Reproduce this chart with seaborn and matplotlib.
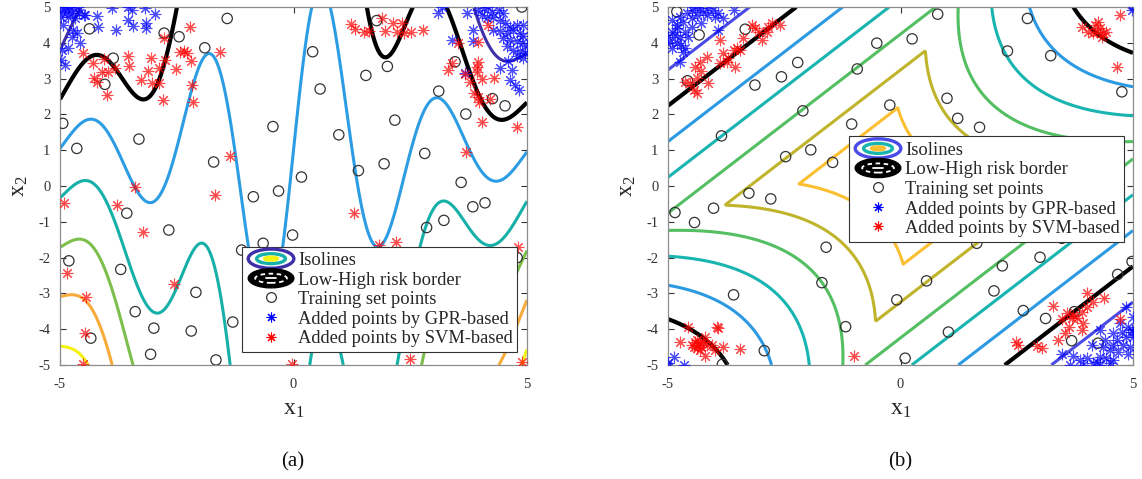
import numpy as np
import matplotlib
matplotlib.use("Agg")
import matplotlib.pyplot as plt
import seaborn as sns
from matplotlib.legend_handler import HandlerBase
from matplotlib.patches import Ellipse
from matplotlib.lines import Line2D

# ---------------- data: panel (a) ----------------
train_a = [(-4.37, 4.39), (-2.77, 4.27), (-2.45, 4.17), (-1.42, 4.68), (-1.90, 3.86), (-3.86, 3.57),
           (-4.04, 2.84), (-4.94, 1.75), (-4.64, 1.05), (-3.31, 1.31), (-0.44, 1.66), (-1.71, 0.67),
           (-0.86, -0.30), (-0.32, -0.14), (0.17, 0.25), (4.89, 5.0), (1.78, 4.62), (0.41, 3.75),
           (2.01, 3.34), (1.55, 3.09), (0.57, 2.71), (3.46, 3.47), (3.11, 2.65), (4.26, 2.44),
           (4.53, 2.24), (3.69, 2.01), (2.17, 1.84), (0.97, 1.43), (2.81, 0.91), (1.94, 0.62),
           (1.39, 0.43), (3.59, 0.10), (3.84, -0.58), (4.10, -0.47), (3.22, -0.96), (2.85, -1.16),
           (-0.02, -1.37), (-3.57, -0.76), (-2.67, -1.23), (-4.81, -2.09), (-3.70, -2.33),
           (-2.09, -2.97), (-3.39, -3.51), (-2.99, -3.97), (-2.19, -4.05), (-1.30, -3.80),
           (-4.34, -4.25), (-3.06, -4.70), (-1.66, -4.86), (-1.11, -1.79), (-0.65, -1.60), (4.79, -2.0)]

gpr_a = [(-5.0, 5.0), (-4.89, 4.99), (-4.81, 4.99), (-4.72, 4.96), (-4.61, 5.0), (-4.96, 4.87),
         (-4.86, 4.87), (-4.75, 4.84), (-4.98, 4.73), (-4.82, 4.73), (-4.68, 4.68), (-4.48, 4.78),
         (-4.21, 4.75), (-3.89, 4.96), (-3.55, 5.0), (-3.45, 4.92), (-3.18, 4.96), (-2.97, 4.80),
         (-4.18, 4.45), (-3.81, 4.36), (-3.54, 4.64), (-3.43, 4.47), (-3.16, 4.54), (-3.16, 4.41),
         (-4.93, 4.50), (-4.72, 4.36), (-4.75, 4.17), (-4.57, 3.99), (-4.82, 3.85), (-4.96, 3.80),
         (-4.98, 3.52), (-4.89, 3.38), (-4.64, 4.27), (-4.59, 4.82), (-4.46, 4.78),
         (3.19, 5.0), (3.10, 4.82), (3.71, 4.82), (3.96, 4.92), (4.07, 4.97), (4.17, 5.0),
         (4.24, 4.87), (4.39, 4.92), (4.49, 4.83), (4.03, 4.78), (4.14, 4.69), (4.28, 4.73),
         (4.42, 4.64), (4.53, 4.55), (4.64, 4.45), (4.78, 4.50), (4.92, 4.50), (3.85, 4.36),
         (4.28, 4.36), (4.42, 4.32), (4.57, 4.27), (4.71, 4.36), (4.85, 4.27), (4.92, 4.18),
         (4.49, 4.13), (4.64, 4.08), (4.78, 4.04), (4.89, 3.99), (4.99, 3.90), (4.57, 3.90),
         (4.71, 3.80), (4.85, 3.76), (4.96, 3.71), (4.78, 3.62), (4.92, 3.57), (4.60, 3.48),
         (4.42, 3.29), (4.67, 3.24), (4.64, 2.97), (4.75, 2.83), (4.82, 2.69), (3.67, 3.15),
         (3.39, 4.08), (3.85, 4.04)]

svm_a = [(-4.51, 3.72), (-4.30, 3.43), (-4.05, 3.54), (-4.11, 3.19), (-3.97, 3.19), (-3.82, 3.29),
         (-4.27, 3.01), (-4.21, 2.91), (-3.99, 2.54), (-3.54, 3.63), (-3.52, 3.35), (-3.27, 2.96),
         (-3.12, 3.22), (-3.05, 3.57), (-3.03, 2.88), (-2.89, 3.30), (-2.89, 2.87), (-2.79, 2.40),
         (-2.75, 3.52), (-2.77, 4.13), (-2.52, 3.27), (-2.42, 3.73), (-2.34, 3.78), (-2.27, 3.71),
         (-2.20, 3.49), (-2.21, 4.45), (-2.18, 2.82), (-2.15, 2.35), (-1.57, 3.73), (-1.37, 0.85),
         (-3.39, -0.02), (-1.68, -0.25),
         (1.24, 4.53), (1.32, 4.38), (1.51, 4.31), (1.62, 4.34), (1.89, 4.68), (1.97, 4.34),
         (2.12, 4.54), (2.21, 4.31), (2.32, 4.54), (2.37, 4.26), (2.51, 4.31), (2.78, 4.36),
         (3.53, 4.0), (3.39, 3.44), (3.31, 3.24), (3.67, 3.13), (3.96, 3.47), (3.94, 3.33),
         (3.94, 3.19), (3.78, 2.91), (4.03, 2.98), (4.29, 3.03), (3.87, 2.59), (3.96, 2.49),
         (3.98, 2.35), (4.21, 2.43), (4.03, 1.80), (4.78, 1.66), (3.69, 0.96), (4.16, 4.50),
         (3.96, 4.03),
         (-4.91, -0.47), (-3.77, -0.54), (-3.23, -1.29), (-4.84, -2.44), (-4.44, -3.09),
         (-4.46, -4.11), (-4.51, -4.98), (-2.55, -2.75), (-0.03, -4.98),
         (1.30, -0.75), (1.84, -1.65), (2.20, -1.56), (4.81, -1.71), (2.49, -4.83), (4.89, -4.91)]

# ---------------- data: panel (b) ----------------
train_b = [(-4.81, 4.87), (-4.33, 4.22), (-3.34, 4.38), (-4.58, 2.94), (-2.21, 3.45), (-2.56, 3.05),
           (-3.13, 2.82), (-2.10, 2.10), (-3.85, 1.40), (-0.51, 3.99), (-0.93, 3.27), (-0.23, 2.26),
           (-1.05, 1.73), (-1.93, 1.01), (-2.47, 0.82), (-1.46, 0.66), (-3.26, -0.20), (-2.79, -0.36),
           (-4.02, -0.62), (-4.85, -0.74), (-4.43, -1.02),
           (0.80, 4.80), (2.73, 4.68), (0.25, 4.11), (2.30, 3.77), (3.23, 3.64), (4.76, 2.63),
           (1.00, 2.45), (1.23, 1.89), (1.70, 1.64),
           (-1.60, -1.71), (-1.69, -2.70), (-3.59, -3.04), (-1.18, -3.93), (-2.93, -4.60),
           (-3.83, -4.98), (-0.08, -3.18),
           (1.64, -1.60), (3.00, -1.99), (2.19, -2.23), (0.56, -2.65), (2.01, -2.93), (1.03, -4.08),
           (0.10, -4.81), (2.64, -3.48), (3.12, -3.70), (3.68, -4.32), (4.25, -4.39), (4.67, -2.47),
           (4.98, -2.11), (3.47, -1.46), (3.74, -3.51)]

gpr_b = [(-4.92, 4.64), (-4.92, 4.31), (-4.96, 4.03), (-4.81, 4.50), (-4.74, 4.73), (-4.67, 4.59),
         (-4.60, 4.82), (-4.49, 4.92), (-4.42, 5.0), (-4.31, 4.96), (-4.24, 4.87), (-4.13, 4.96),
         (-4.03, 4.92), (-3.92, 4.82), (-3.81, 4.68), (-3.59, 4.92), (-4.85, 4.22), (-4.74, 4.17),
         (-4.63, 4.31), (-4.81, 3.99), (-4.71, 3.94), (-4.63, 3.85), (-4.67, 3.75), (-4.74, 3.47),
         (-4.49, 4.68), (-4.38, 4.78), (-4.28, 4.54), (-4.49, 4.45), (-3.92, 4.36), (-4.92, 3.85),
         (-4.99, 4.17), (-4.58, 4.17), (-4.81, 4.40), (-4.17, 4.78), (-3.99, 4.73),
         (4.97, 4.92),
         (-4.88, -4.77), (-4.66, -5.0), (-4.99, -4.95),
         (4.86, -3.39), (5.0, -3.67), (4.72, -3.84), (4.90, -3.93), (4.97, -4.02), (5.0, -4.21),
         (4.86, -4.21), (4.76, -4.07), (4.58, -4.12), (4.65, -4.30), (4.79, -4.44), (4.93, -4.49),
         (4.58, -4.44), (4.51, -4.58), (4.36, -4.49), (4.43, -4.81), (4.58, -4.86), (4.29, -4.77),
         (4.22, -4.91), (4.15, -4.95), (4.00, -4.81), (3.86, -4.86), (3.72, -4.75), (3.47, -4.69),
         (3.65, -5.0), (4.29, -4.02), (4.11, -4.44), (4.40, -4.30), (4.68, -4.63), (4.90, -4.69),
         (5.0, -4.07), (4.29, -5.0), (4.51, -4.95), (3.93, -5.0)]

svm_b = [(-3.20, 4.50), (-3.13, 4.40), (-3.04, 4.31), (-2.84, 4.45), (-2.77, 4.54), (-2.59, 4.50),
         (-2.88, 4.31), (-2.98, 4.08), (-3.38, 4.13), (-3.88, 4.08), (-3.81, 3.71), (-3.70, 3.57),
         (-3.59, 3.80), (-3.52, 3.85), (-3.45, 3.80), (-3.56, 3.33), (-3.88, 3.43), (-4.17, 3.61),
         (-4.31, 3.47), (-4.42, 3.33), (-4.28, 3.20), (-4.38, 3.01), (-4.53, 2.87), (-4.45, 2.68),
         (-4.38, 2.59), (-4.63, 2.91), (-4.13, 2.87), (-3.74, 3.47),
         (3.90, 4.45), (4.04, 4.31), (4.18, 4.50), (4.22, 4.31), (4.29, 4.40), (4.36, 4.27),
         (4.43, 4.31), (4.25, 4.59), (4.15, 4.27), (4.33, 4.17), (4.72, 4.78), (4.65, 3.33),
         (-4.58, -3.95), (-4.74, -4.35), (-4.42, -4.35), (-4.35, -4.44), (-4.28, -4.49),
         (-4.45, -4.49), (-4.31, -4.58), (-4.38, -4.30), (-4.20, -4.21), (-4.31, -4.39),
         (-4.17, -4.44), (-4.06, -4.44), (-3.99, -4.58), (-3.95, -3.93), (-3.92, -3.98),
         (-3.81, -4.49), (-3.45, -4.55), (-4.20, -4.75), (-4.38, -4.53), (-4.49, -4.44),
         (-4.24, -4.35), (-0.99, -4.75),
         (4.02, -2.98), (4.38, -3.12), (4.15, -3.25), (3.29, -3.35), (3.57, -3.54), (3.68, -3.70),
         (3.47, -3.72), (3.90, -3.51), (3.93, -3.84), (3.90, -4.02), (3.72, -3.60), (3.62, -3.93),
         (3.54, -4.12), (3.39, -4.30), (2.93, -4.47), (3.05, -4.53), (2.48, -4.35), (2.53, -4.44),
         (4.72, -3.72), (3.79, -3.70), (4.00, -3.37)]

# contour levels and colours
levels_a = [-2, 2, 4, 6, 8, 10]
colors_a = ["#3e2fa8", "#2c9de3", "#17b0a8", "#7cbf4c", "#f7ab3a", "#f5f20f"]
levels_b = [-1, 1, 2, 3, 4, 5]
colors_b = ["#4a4ae6", "#2c9ae2", "#18b4b0", "#54bf62", "#c0b42c", "#fbbf32"]
border_level = [0]

tick_labels_y = [str(v) for v in range(-5, 6)]
tick_labels_x = ["-5", "0", "5"]
legend_labels = ["Isolines", "Low-High risk border", "Training set points",
                 "Added points by GPR-based", "Added points by SVM-based"]


# limit-state functions shown by the isolines
def g_a(x1, x2):
    return np.sin(2.5 * x1) + 2 - (x1 ** 2 + 4) * (x2 - 1) / 20.0


def g_b(x1, x2):
    r2 = np.sqrt(2.0)
    b1 = 3 + 0.1 * (x1 - x2) ** 2 - (x1 + x2) / r2
    b2 = 3 + 0.1 * (x1 - x2) ** 2 + (x1 + x2) / r2
    b3 = (x1 - x2) + 6 / r2
    b4 = (x2 - x1) + 6 / r2
    return 3 + np.minimum(np.minimum(b1, b2), np.minimum(b3, b4))


# ---------------- style ----------------
sns.set_theme(style="white")
plt.rcParams["font.family"] = ["Liberation Serif", "DejaVu Serif"]
plt.rcParams["axes.unicode_minus"] = False
plt.rcParams["mathtext.fontset"] = "custom"
plt.rcParams["mathtext.rm"] = "Liberation Serif"
plt.rcParams["mathtext.it"] = "Liberation Serif:italic"

AST = (8, 2, 0)
BLUE = "#0000ff"
RED = "#ff0000"


class RingHandler(HandlerBase):
    def __init__(self, kind, cols):
        super().__init__()
        self.kind = kind
        self.cols = cols

    def create_artists(self, legend, orig_handle, xdescent, ydescent, width, height, fontsize, trans):
        cx = -xdescent + width / 2
        cy = -ydescent + height / 2
        W = width
        H = height * 1.3
        arts = []
        if self.kind == "iso":
            arts.append(Ellipse((cx, cy), W * 0.95, H, fc="none", ec=self.cols[0], lw=2.4))
            arts.append(Ellipse((cx, cy), W * 0.6, H * 0.52, fc="none", ec=self.cols[1], lw=2.4))
            arts.append(Ellipse((cx, cy), W * 0.28, H * 0.18, fc=self.cols[2], ec=self.cols[2], lw=2.0))
        else:
            arts.append(Ellipse((cx, cy), W * 0.95, H, fc="black", ec="black", lw=1.0))
            arts.append(Ellipse((cx, cy), W * 0.66, H * 0.48, fc="none", ec="white", lw=1.3,
                                ls=(0, (2.5, 2.0))))
            arts.append(Line2D([cx - W * 0.1, cx + W * 0.1], [cy, cy], color="white", lw=1.3))
        for a in arts:
            a.set_transform(trans)
        return arts


fig = plt.figure(figsize=(11.42, 4.79), dpi=100)
ax_a = fig.add_axes([60 / 1142, 1 - 365 / 479, 467 / 1142, 358 / 479])
ax_b = fig.add_axes([668 / 1142, 1 - 365 / 479, 465 / 1142, 358 / 479])

grid = np.linspace(-5, 5, 501)
X1, X2 = np.meshgrid(grid, grid)

panels = [
    (ax_a, g_a, levels_a, colors_a, train_a, gpr_a, svm_a, (0.979, 0.036), "(a)", 293),
    (ax_b, g_b, levels_b, colors_b, train_b, gpr_b, svm_b, (0.981, 0.344), "(b)", 900),
]

for ax, fn, lev, cols, tr, gp, sv, lpos, tag, tagx in panels:
    Z = fn(X1, X2)
    ax.contour(X1, X2, Z, levels=lev, colors=cols, linewidths=2.2, zorder=1)
    ax.contour(X1, X2, Z, levels=border_level, colors="black", linewidths=3.0, zorder=2)

    tr = np.array(tr)
    gp = np.array(gp)
    sv = np.array(sv)
    sns.scatterplot(x=tr[:, 0], y=tr[:, 1], ax=ax, marker="o", s=55, facecolors="none",
                    edgecolor="#333333", linewidth=0.9, zorder=3)
    sns.scatterplot(x=gp[:, 0], y=gp[:, 1], ax=ax, marker=AST, s=60, color=BLUE,
                    linewidth=0.8, alpha=0.7, zorder=4)
    sns.scatterplot(x=sv[:, 0], y=sv[:, 1], ax=ax, marker=AST, s=60, color=RED,
                    linewidth=0.8, alpha=0.7, zorder=4)

    ax.set_xlim(-5, 5)
    ax.set_ylim(-5, 5)
    ax.set_xticks([-5, 0, 5])
    ax.set_xticklabels(tick_labels_x)
    ax.set_yticks(range(-5, 6))
    ax.set_yticklabels(tick_labels_y)
    ax.tick_params(direction="in", length=4, width=0.8, colors="#333333", labelsize=10.5,
                   top=True, right=True, bottom=True, left=True, pad=7)
    ax.tick_params(axis="x", pad=9)
    for sp in ax.spines.values():
        sp.set_color("#8c8c8c")
        sp.set_linewidth(0.9)
    ax.set_xlabel(r"$\mathrm{x}_1$", fontsize=17, color="#262626", labelpad=6)
    ax.set_ylabel(r"$\mathrm{x}_2$", fontsize=17, color="#262626", labelpad=6)

    iso_h = Line2D([], [])
    brd_h = Line2D([], [])
    tr_h = Line2D([], [], ls="none", marker="o", mfc="none", mec="#333333", ms=7, mew=0.9)
    gp_h = Line2D([], [], ls="none", marker=AST, color=BLUE, ms=7, mew=0.8)
    sv_h = Line2D([], [], ls="none", marker=AST, color=RED, ms=7, mew=0.8)
    leg = ax.legend([iso_h, brd_h, tr_h, gp_h, sv_h], legend_labels,
                    handler_map={iso_h: RingHandler("iso", [cols[0], cols[2], cols[-1]]),
                                 brd_h: RingHandler("brd", None)},
                    loc="lower right", bbox_to_anchor=lpos, borderaxespad=0,
                    fontsize=13.3, handlelength=2.6, handleheight=0.85, handletextpad=0.15,
                    borderpad=0.25, labelspacing=0.1, fancybox=False, framealpha=1,
                    edgecolor="#333333")
    leg.get_frame().set_linewidth(0.8)
    leg.set_zorder(10)

    fig.text(tagx / 1142, 1 - 462 / 479, tag, ha="center", va="center", fontsize=15, color="#111111")

fig.savefig("out.png", dpi=100)
